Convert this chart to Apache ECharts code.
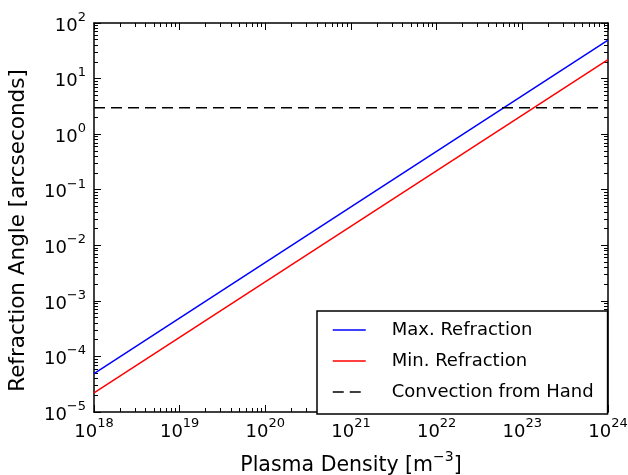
<!DOCTYPE html>
<html>
<head>
<meta charset="utf-8">
<script src="https://cdn.jsdelivr.net/npm/echarts@6/dist/echarts.min.js"></script>
<style>
  html, body { margin: 0; padding: 0; background: #fff; }
  #chart { width: 628px; height: 475px; }
</style>
</head>
<body>
<div id="chart"></div>
<script>
// Plasma density [m^-3] at the two ends of the plotted range
const density = [1e18, 1e24];
// Refraction angle [arcseconds]
const maxRefraction = [4.9e-5, 49];
const minRefraction = [2.2e-5, 22];
// Convection level from a hand (constant)
const convection = [3, 3];

const seriesNames = ['Max. Refraction', 'Min. Refraction', 'Convection from Hand'];

// Decade exponents used for the major ticks / labels
const xDecades = [18, 19, 20, 21, 22, 23, 24];
const yDecades = [-5, -4, -3, -2, -1, 0, 1, 2];

const FONT = 'DejaVu Sans';

const xRange = [1e18, 1e24];
const yRange = [1e-5, 1e2];

// parse "1eN" so each decade is an exact double; the top decade is nudged a hair
// inward so the log-scale range check (log(v)/log(10)) does not drop it
const decade = (e) => Number('1e' + e);
const inside = (range) => (v) => Math.min(v, range[1] * (1 - 1e-12));
const xMajor = xDecades.map(decade).map(inside(xRange));
const yMajor = yDecades.map(decade).map(inside(yRange));

// minor ticks at 2..9 times each decade
function minorTicks(decades) {
  const out = [];
  for (let i = 0; i < decades.length - 1; i++) {
    for (let k = 2; k <= 9; k++) out.push(k * decade(decades[i]));
  }
  return out;
}
const xMinor = minorTicks(xDecades);
const yMinor = minorTicks(yDecades);

function powLabel(v) {
  const e = Math.round(Math.log10(v));
  const s = e < 0 ? '\u2212' + (-e) : String(e);
  return '{b|10}{e|' + s + '}';
}
const powRich = {
  b: { fontFamily: FONT, fontSize: 18, color: '#000', lineHeight: 24, verticalAlign: 'bottom' },
  e: { fontFamily: FONT, fontSize: 13, color: '#000', lineHeight: 8, verticalAlign: 'top' }
};

const axisLine = { show: true, onZero: false, lineStyle: { color: '#000', width: 1.5 } };
const noLine = { show: false };
const tickStyle = { color: '#000', width: 1 };

function logAxis(range, pos, opts) {
  return Object.assign({
    type: 'log',
    logBase: 10,
    min: range[0],
    max: range[1],
    position: pos,
    splitLine: { show: false },
    minorTick: { show: false },
    minorSplitLine: { show: false },
    axisLabel: { show: false },
    axisLine: axisLine,
    axisTick: { show: false }
  }, opts);
}

const majorTick = (vals) => ({ show: true, inside: true, length: 7, customValues: vals, lineStyle: tickStyle });
const minorTick = (vals) => ({ show: true, inside: true, length: 4, customValues: vals, lineStyle: tickStyle });

const chart = echarts.init(document.getElementById('chart'), null, { renderer: 'canvas' });

chart.setOption({
  animation: false,
  backgroundColor: '#fff',
  grid: { left: 94, right: 20, top: 23, bottom: 63, outerBoundsMode: 'none', containLabel: false },
  xAxis: [
    logAxis(xRange, 'bottom', {
      axisTick: majorTick(xMajor),
      axisLabel: {
        show: true, customValues: xMajor, margin: 5, formatter: powLabel, rich: powRich,
        hideOverlap: false, showMinLabel: true, showMaxLabel: true
      },
      name: '{a|Plasma Density [m}{s|\u22123}{a|]}',
      nameLocation: 'middle',
      nameGap: 38,
      nameMoveOverlap: false,
      nameTextStyle: {
        rich: {
          a: { fontFamily: FONT, fontSize: 20.5, color: '#000', lineHeight: 26, verticalAlign: 'bottom' },
          s: { fontFamily: FONT, fontSize: 14, color: '#000', lineHeight: 8, verticalAlign: 'top' }
        }
      }
    }),
    logAxis(xRange, 'top', { axisTick: majorTick(xMajor) }),
    logAxis(xRange, 'bottom', { axisLine: noLine, axisTick: minorTick(xMinor) }),
    logAxis(xRange, 'top', { axisLine: noLine, axisTick: minorTick(xMinor) })
  ],
  yAxis: [
    logAxis(yRange, 'left', {
      axisTick: majorTick(yMajor),
      axisLabel: {
        show: true, customValues: yMajor, margin: 8, formatter: powLabel, rich: powRich,
        hideOverlap: false, showMinLabel: true, showMaxLabel: true
      },
      name: 'Refraction Angle [arcseconds]',
      nameLocation: 'middle',
      nameGap: 65,
      nameMoveOverlap: false,
      nameTextStyle: { fontFamily: FONT, fontSize: 21.5, color: '#000', padding: [0, 26, 0, 0] }
    }),
    logAxis(yRange, 'right', { axisTick: majorTick(yMajor) }),
    logAxis(yRange, 'left', { axisLine: noLine, axisTick: minorTick(yMinor) }),
    logAxis(yRange, 'right', { axisLine: noLine, axisTick: minorTick(yMinor) })
  ],
  legend: {
    orient: 'vertical',
    left: 317,
    top: 311,
    itemWidth: 33,
    itemHeight: 14,
    itemGap: 11,
    padding: [9, 14, 12, 15],
    borderColor: '#000',
    borderWidth: 1.5,
    borderRadius: 0,
    backgroundColor: '#fff',
    itemStyle: { color: 'rgba(0,0,0,0)', borderWidth: 0, opacity: 0 },
    lineStyle: { width: 1.5 },
    textStyle: { fontFamily: FONT, fontSize: 18, color: '#000', lineHeight: 20, padding: [0, 0, 0, 21] },
    data: seriesNames
  },
  series: [
    {
      name: seriesNames[0], type: 'line', xAxisIndex: 0, yAxisIndex: 0,
      data: density.map((x, i) => [x, maxRefraction[i]]),
      symbol: 'none', showSymbol: false,
      lineStyle: { color: '#0000ff', width: 1.5 }, itemStyle: { color: '#0000ff' }
    },
    {
      name: seriesNames[1], type: 'line', xAxisIndex: 0, yAxisIndex: 0,
      data: density.map((x, i) => [x, minRefraction[i]]),
      symbol: 'none', showSymbol: false,
      lineStyle: { color: '#ff0000', width: 1.5 }, itemStyle: { color: '#ff0000' }
    },
    {
      name: seriesNames[2], type: 'line', xAxisIndex: 0, yAxisIndex: 0,
      data: density.map((x, i) => [x, convection[i]]),
      symbol: 'none', showSymbol: false,
      lineStyle: { color: '#000000', width: 1.5, type: [11, 6] }, itemStyle: { color: '#000000' }
    }
  ]
});
</script>
</body>
</html>
